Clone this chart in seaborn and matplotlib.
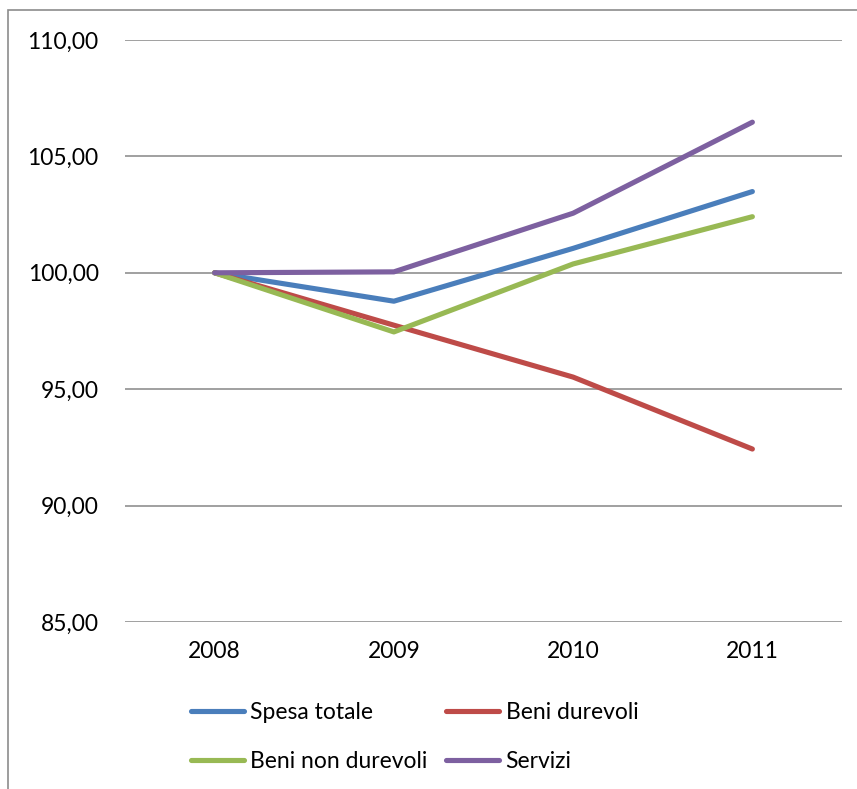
import pandas as pd
import seaborn as sns
import matplotlib
matplotlib.use("Agg")
from matplotlib import pyplot as plt
from matplotlib.patches import Rectangle

years = ["2008", "2009", "2010", "2011"]
spesa_totale = [100.0, 98.78, 101.05, 103.49]
beni_durevoli = [100.0, 97.75, 95.52, 92.43]
beni_non_durevoli = [100.0, 97.46, 100.38, 102.41]
servizi = [100.0, 100.04, 102.56, 106.47]
series_names = ["Spesa totale", "Beni durevoli", "Beni non durevoli", "Servizi"]
y_ticks = [85, 90, 95, 100, 105, 110]
y_tick_labels = ["85,00", "90,00", "95,00", "100,00", "105,00", "110,00"]

colors = ["#4A7EBB", "#BE4B48", "#98B954", "#7D60A0"]

rows = []
for name, vals in zip(series_names, [spesa_totale, beni_durevoli, beni_non_durevoli, servizi]):
    for i, v in enumerate(vals):
        rows.append({"pos": i, "anno": years[i], "serie": name, "valore": v})
df = pd.DataFrame(rows)

sns.set_style("white")
plt.rcParams["font.family"] = ["Lato", "DejaVu Sans"]

fig = plt.figure(figsize=(8.57, 7.89), dpi=100)
ax = fig.add_axes([125 / 857, 1 - 622 / 789, (842 - 125) / 857, (622 - 40) / 789])

sns.lineplot(data=df, x="pos", y="valore", hue="serie", hue_order=series_names,
             palette=colors, linewidth=3.7, solid_capstyle="round",
             solid_joinstyle="round", ax=ax, legend=True)

ax.set_xlim(-0.5, 3.5)
ax.set_ylim(85, 110)
ax.set_xticks(range(len(years)))
ax.set_xticklabels(years)
ax.set_yticks(y_ticks)
ax.set_yticklabels(y_tick_labels)
ax.set_xlabel("")
ax.set_ylabel("")
ax.grid(axis="y", color="#868686", linewidth=1.1)
ax.set_axisbelow(True)
for s in ax.spines.values():
    s.set_visible(False)
ax.tick_params(axis="y", length=0, pad=19, labelsize=16.5, labelcolor="#000000")
ax.tick_params(axis="x", length=0, pad=14, labelsize=16.5, labelcolor="#000000")

handles, labels = ax.get_legend_handles_labels()
order = [0, 2, 1, 3]  # row-wise order like the original
leg = ax.legend([handles[i] for i in order], [labels[i] for i in order], ncol=2,
                frameon=False, fontsize=16.5, loc="center",
                bbox_to_anchor=(414.5 / 857, 1 - 737 / 789), bbox_transform=fig.transFigure,
                handlelength=2.3, handletextpad=0.3, columnspacing=0.8, labelspacing=1.26)
for t in leg.get_texts():
    t.set_color("#000000")

# outer chart border (only top and left are inside the image)
fig.patches.append(Rectangle((8 / 857, -0.1), 1.2, 1 - 10 / 789 + 0.1,
                             transform=fig.transFigure, fill=False,
                             edgecolor="#8C8C8C", linewidth=1.2))

fig.savefig("out.png", dpi=100)
